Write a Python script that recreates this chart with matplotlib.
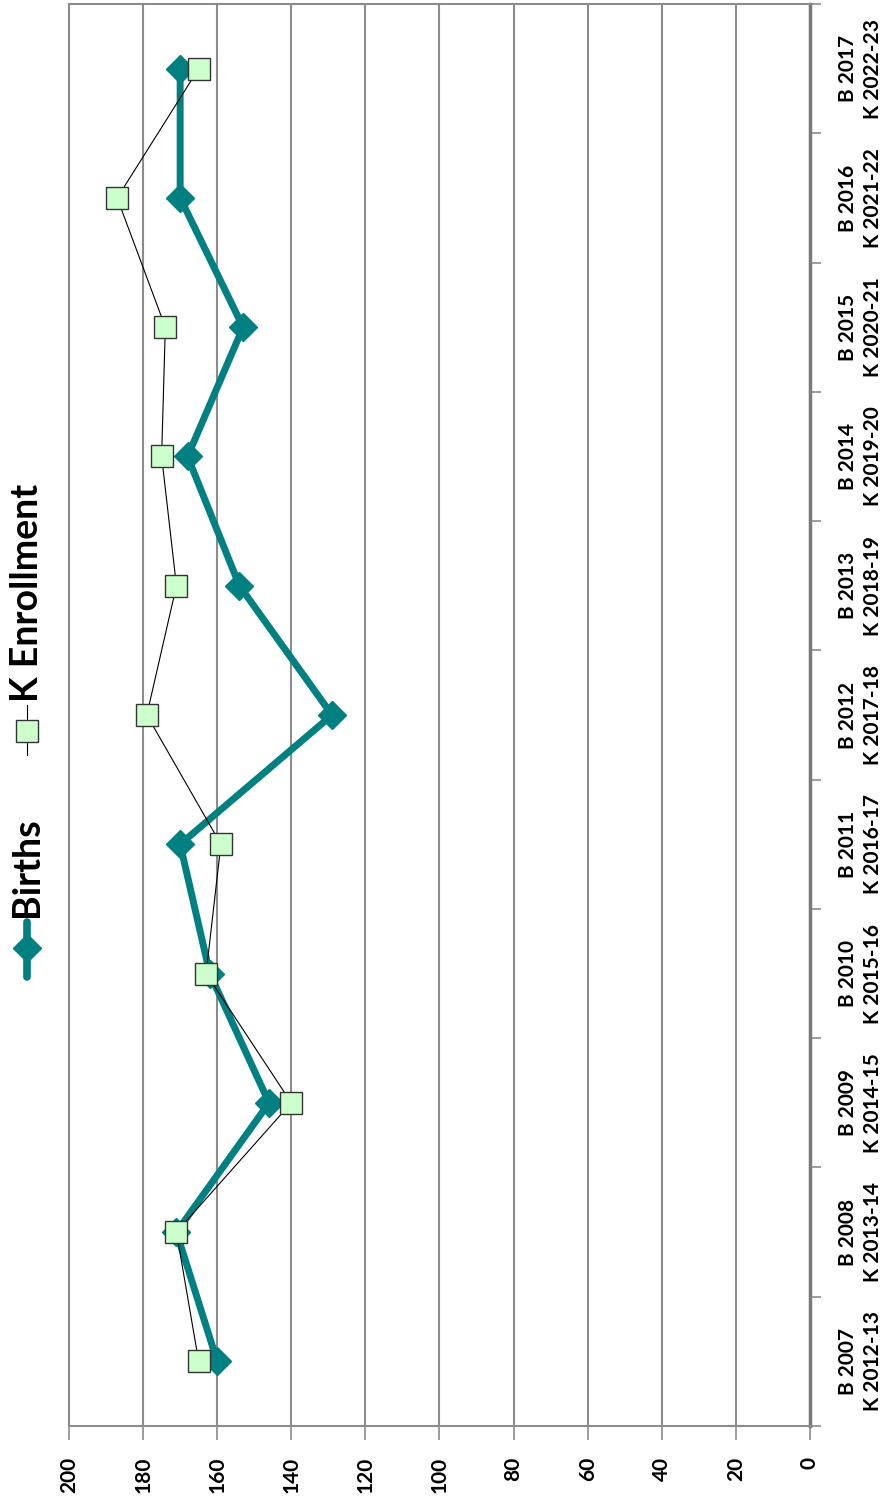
import numpy as np
import matplotlib
matplotlib.use("Agg")
import matplotlib.pyplot as plt
from matplotlib.lines import Line2D

plt.rcParams['font.family'] = ['Lato', 'DejaVu Sans']

# data
categories = ["B 2007\nK 2012-13", "B 2008\nK 2013-14", "B 2009\nK 2014-15",
              "B 2010\nK 2015-16", "B 2011\nK 2016-17", "B 2012\nK 2017-18",
              "B 2013\nK 2018-19", "B 2014\nK 2019-20", "B 2015\nK 2020-21",
              "B 2016\nK 2021-22", "B 2017\nK 2022-23"]
births = [160, 171, 146, 162, 170, 129, 154, 168, 153, 170, 170]
k_enroll = [165, 171, 140, 163, 159, 179, 171, 175, 174, 187, 165]
value_ticks = [200, 180, 160, 140, 120, 100, 80, 60, 40, 20, 0]

TEAL = "#008080"
GRID = "#8c8c8c"

fig = plt.figure(figsize=(8.87, 15.07), dpi=100)
W, H = 887, 1507
ax = fig.add_axes([69 / W, 1 - 1426 / H, (810 - 69) / W, (1426 - 4) / H])

pos = np.arange(len(categories))

# chart is drawn rotated: values run horizontally (200 left, 0 right)
ax.plot(k_enroll, pos, color="black", lw=0.8, marker="s", markersize=16,
        markerfacecolor="#ccffcc", markeredgecolor="#333333", markeredgewidth=1.0,
        zorder=3)
ax.plot(births, pos, color=TEAL, lw=5, marker="D", markersize=14,
        markerfacecolor=TEAL, markeredgecolor=TEAL, zorder=2)

ax.set_xlim(200, 0)
ax.set_ylim(-0.5, len(categories) - 0.5)

ax.set_xticks(value_ticks)
ax.set_xticklabels([str(v) for v in value_ticks], rotation=90,
                   fontsize=15, fontweight="bold")
ax.xaxis.grid(True, color=GRID, lw=1.5)
ax.set_axisbelow(True)
ax.tick_params(axis="x", direction="out", length=10, width=1.2, color=GRID, pad=12)

ax.yaxis.tick_right()
ax.set_yticks(pos)
ax.set_yticklabels(categories, rotation=90, fontsize=15, fontweight="bold",
                   va="center", ha="left", multialignment="center", linespacing=1.35)
ax.set_yticks(np.arange(len(categories) + 1) - 0.5, minor=True)
ax.tick_params(axis="y", which="major", length=0, pad=20)
ax.tick_params(axis="y", which="minor", direction="out", length=8, width=1.2,
               color=GRID)

for side in ["top", "left", "bottom"]:
    ax.spines[side].set_color(GRID)
    ax.spines[side].set_linewidth(1.5)
ax.spines["right"].set_color("#7a7a7a")
ax.spines["right"].set_linewidth(2.5)

# legend, rotated with the chart
fig.add_artist(Line2D([27 / W, 27 / W], [1 - 977 / H, 1 - 922 / H], color=TEAL, lw=5.5,
                      solid_capstyle="round", transform=fig.transFigure))
fig.add_artist(Line2D([27 / W], [1 - 948 / H], color=TEAL, marker="D", markersize=14,
                      transform=fig.transFigure))
fig.text(27 / W, 1 - 917 / H, "Births", rotation=90, fontsize=27, fontweight="bold",
         ha="center", va="bottom")
fig.add_artist(Line2D([27 / W, 27 / W], [1 - 755 / H, 1 - 705 / H], color="black", lw=0.8,
                      transform=fig.transFigure))
fig.add_artist(Line2D([27 / W], [1 - 731 / H], color="black", marker="s", markersize=16,
                      markerfacecolor="#ccffcc", markeredgecolor="#333333",
                      markeredgewidth=1.0, transform=fig.transFigure))
fig.text(27 / W, 1 - 702 / H, "K Enrollment", rotation=90, fontsize=27, fontweight="bold",
         ha="center", va="bottom")

fig.savefig("out.png", dpi=100)
